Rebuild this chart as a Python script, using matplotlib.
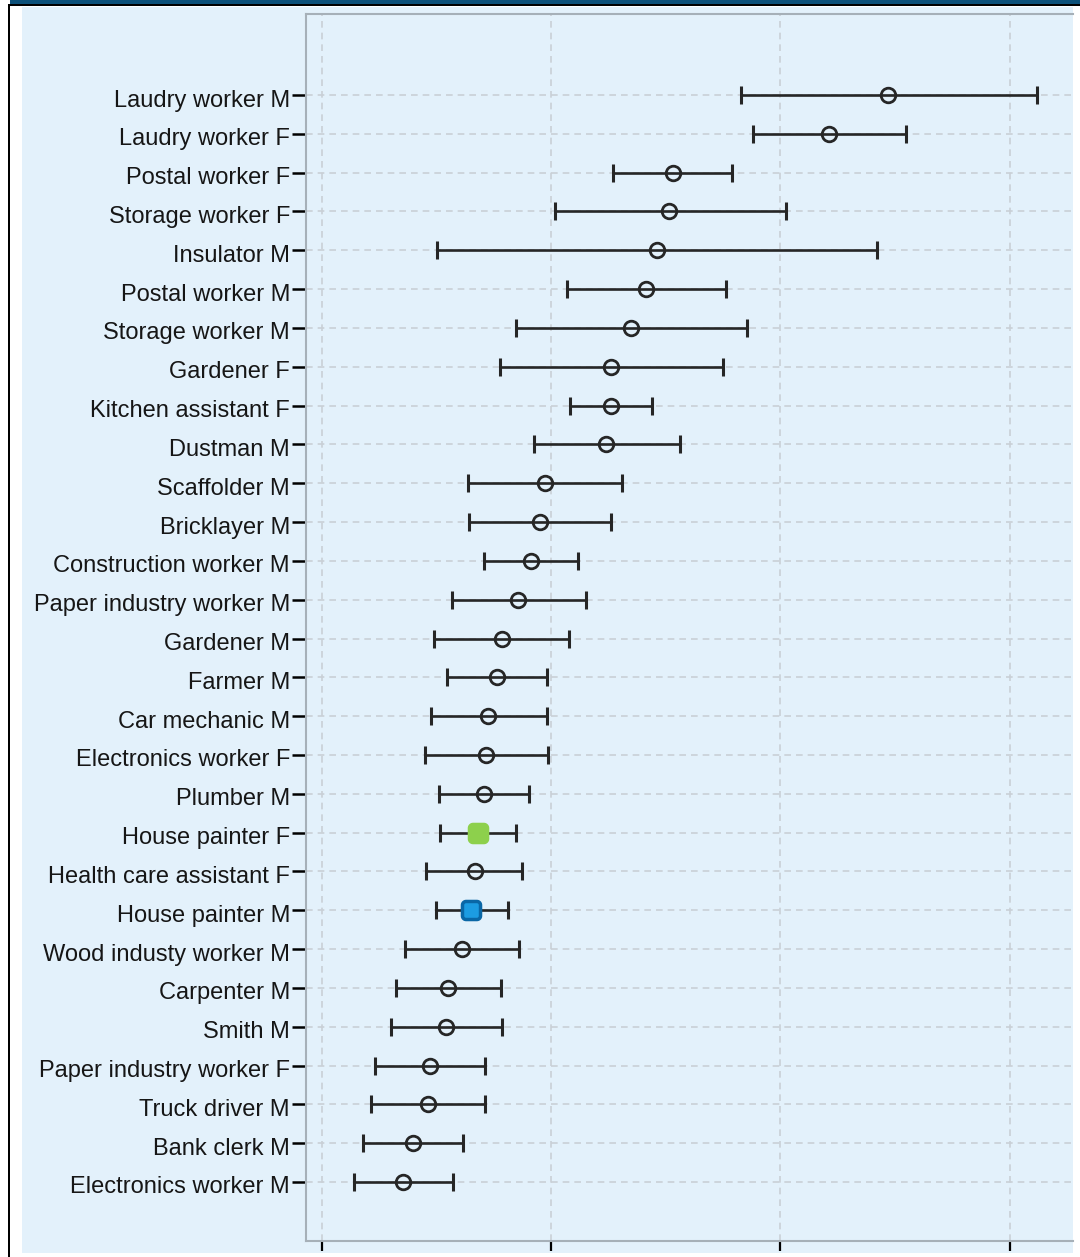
import numpy as np
import matplotlib
matplotlib.use("Agg")
import matplotlib.pyplot as plt
import matplotlib.transforms as mtransforms
from matplotlib.path import Path
from matplotlib.patches import Rectangle

# Data, top row first
labels = ["Laudry worker M", "Laudry worker F", "Postal worker F", "Storage worker F",
          "Insulator M", "Postal worker M", "Storage worker M", "Gardener F",
          "Kitchen assistant F", "Dustman M", "Scaffolder M", "Bricklayer M",
          "Construction worker M", "Paper industry worker M", "Gardener M", "Farmer M",
          "Car mechanic M", "Electronics worker F", "Plumber M", "House painter F",
          "Health care assistant F", "House painter M", "Wood industy worker M",
          "Carpenter M", "Smith M", "Paper industry worker F", "Truck driver M",
          "Bank clerk M", "Electronics worker M"]
estimate = [1.735, 1.607, 1.265, 1.258, 1.230, 1.206, 1.173, 1.130, 1.130, 1.119,
            0.986, 0.975, 0.955, 0.927, 0.892, 0.881, 0.862, 0.857, 0.853, 0.840,
            0.833, 0.825, 0.805, 0.775, 0.770, 0.735, 0.731, 0.698, 0.676]
lower = [1.413, 1.441, 1.134, 1.008, 0.751, 1.034, 0.923, 0.888, 1.040, 0.962,
         0.818, 0.820, 0.853, 0.783, 0.744, 0.772, 0.737, 0.724, 0.755, 0.757,
         0.727, 0.748, 0.681, 0.661, 0.650, 0.615, 0.607, 0.589, 0.570]
upper = [2.060, 1.775, 1.395, 1.513, 1.711, 1.382, 1.428, 1.374, 1.219, 1.280,
         1.154, 1.130, 1.058, 1.075, 1.038, 0.990, 0.990, 0.992, 0.951, 0.923,
         0.936, 0.905, 0.929, 0.890, 0.892, 0.855, 0.855, 0.807, 0.785]
xticks = [0.5, 1.0, 1.5, 2.0]
highlight = {"House painter F": ("#8dd04c", "#8dd04c"),
             "House painter M": ("#1c9ce2", "#0a67a6")}

W, H = 1080, 1257
fig = plt.figure(figsize=(W / 100, H / 100), dpi=100)
fig.patch.set_facecolor("white")

# Frame of the window
def fig_rect(x0, y0, x1, y1, color):
    fig.patches.append(Rectangle((x0 / W, 1 - y1 / H), (x1 - x0) / W, (y1 - y0) / H,
                                 transform=fig.transFigure, color=color, zorder=-5, lw=0))

fig_rect(22, 7, 1073, 1253, "#e3f1fb")
fig_rect(10, 0, W, 4, "#0c5079")
fig_rect(8, 4, W, 6, "#000000")
fig_rect(8, 4, 10, H, "#000000")

ax = fig.add_axes([306 / W, 1 - 1241 / H, (1073 - 306) / W, (1241 - 14) / H])
ax.set_facecolor("none")

y = np.arange(len(labels))
est = np.array(estimate)
err = np.vstack([est - np.array(lower), np.array(upper) - est])

ax.grid(True, color="#c9d0d6", linestyle=(0, (4, 3)), linewidth=1.2)
ax.set_axisbelow(True)

ax.errorbar(est, y, xerr=err, fmt="none", ecolor="#262626", elinewidth=1.9,
            capsize=6.5, capthick=2.2, zorder=2)

normal = [i for i, l in enumerate(labels) if l not in highlight]
ax.plot(est[normal], y[normal], "o", ms=10.5, mfc="none", mec="#262626", mew=2, zorder=3)

# rounded square marker
t = np.linspace(0, np.pi / 2, 8)
r, h = 0.4, 1.0
pts = []
for cx, cy, a0 in [(h - r, h - r, 0), (-h + r, h - r, np.pi / 2),
                   (-h + r, -h + r, np.pi), (h - r, -h + r, 1.5 * np.pi)]:
    pts += [(cx + r * np.cos(a0 + tt), cy + r * np.sin(a0 + tt)) for tt in t]
pts.append(pts[0])
rsq = Path(pts, closed=True)

for name, (fc, ec) in highlight.items():
    i = labels.index(name)
    ax.plot(est[i], y[i], marker=rsq, ms=13, mfc=fc, mec=ec, mew=2.5, zorder=4)

ax.set_xlim(0.4651, 2.1383)
ax.set_ylim(29.52, -2.087)
ax.set_xticks(xticks)
ax.set_xticklabels([])
ax.set_yticks(y)
ax.set_yticklabels(labels, fontsize=17, family=["Liberation Sans", "DejaVu Sans"], color="#161616")
ax.tick_params(axis="y", length=10, width=1.8, color="black", pad=1.5)
ax.tick_params(axis="x", length=7, width=1.6, color="black", direction="out")

# labels sit a little below their tick in the original
shift = mtransforms.ScaledTranslation(0, -3 / 100, fig.dpi_scale_trans)
for lab in ax.get_yticklabels():
    lab.set_transform(lab.get_transform() + shift)

for s in ["left", "bottom", "top"]:
    ax.spines[s].set_color("#a6b0b8")
    ax.spines[s].set_linewidth(1.5)
ax.spines["right"].set_visible(False)

fig.savefig("out.png", dpi=100)
